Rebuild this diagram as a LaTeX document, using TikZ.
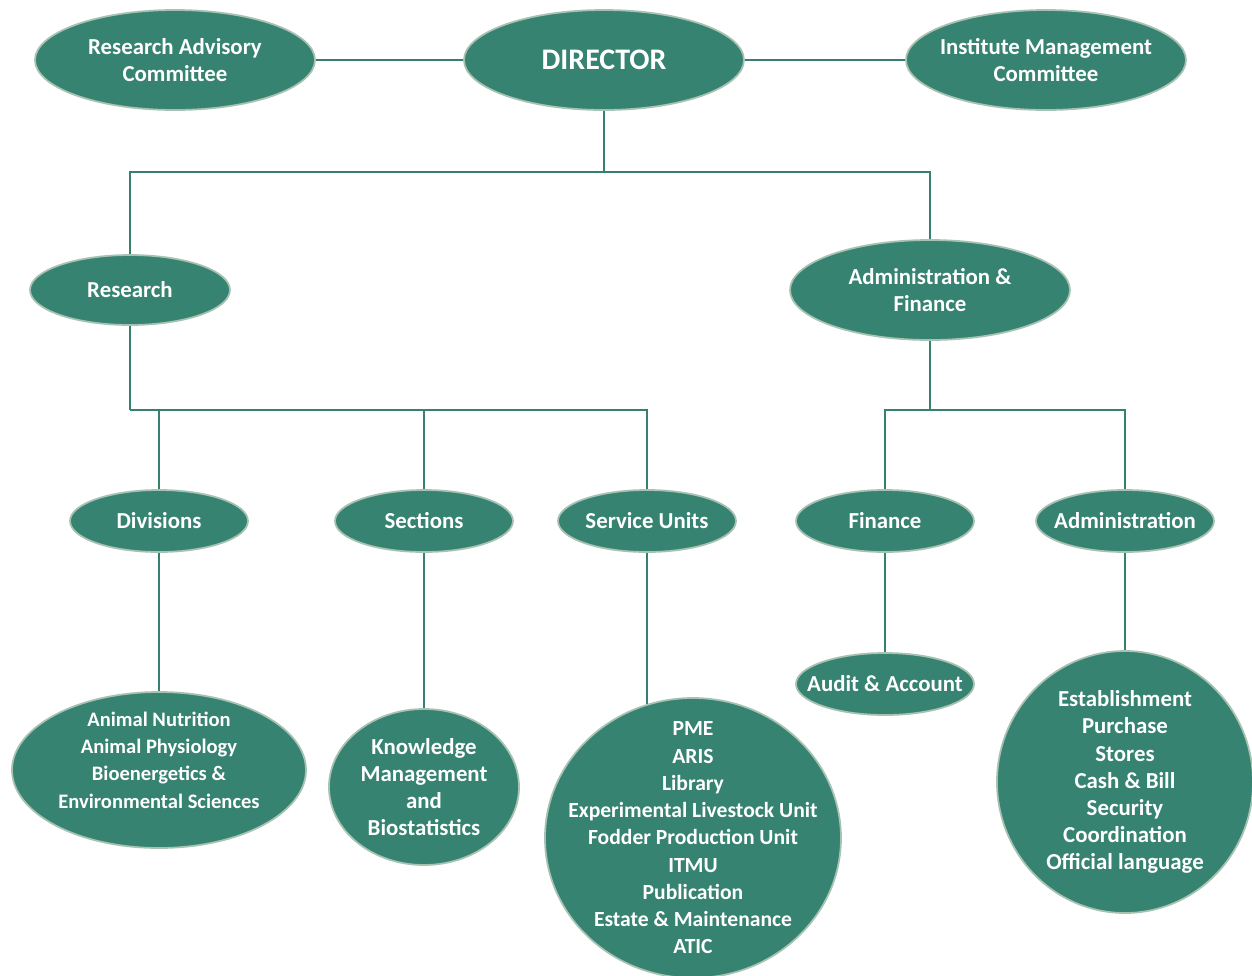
\documentclass[tikz,border=0pt]{standalone}
\usepackage{fontspec}
\setmainfont{Carlito}
\usetikzlibrary{positioning,shapes.geometric,backgrounds}
\definecolor{unitfill}{HTML}{378372}
\definecolor{unitedge}{HTML}{A8C2B2}
\definecolor{wire}{HTML}{35806F}
\begin{document}
\begin{tikzpicture}[node distance=2.0cm]
    \tikzset{
        unit/.style = {ellipse, line width=1pt, draw=unitedge, fill=unitfill, text=white, align=center, inner sep=-3cm, font=\fontsize{13}{15.4}\selectfont\bfseries},
        link/.style = {draw=wire, line width=1.4pt}
    }
    \useasboundingbox (-12.08,1.2) rectangle (12.96,-18.3);
    \clip (-12.08,1.2) rectangle (12.96,-18.3);

    \node (director) [unit, minimum width=5.6cm, minimum height=2.0cm, font=\fontsize{17}{20}\selectfont\bfseries] {DIRECTOR};
    \node (rac) [unit, left of=director, xshift=-6.58cm, minimum width=5.6cm, minimum height=2.0cm] {Research Advisory\\Committee};
    \node (imc) [unit, right of=director, xshift=6.84cm, minimum width=5.6cm, minimum height=2.0cm] {Institute Management\\Committee};
    \coordinate[below of=director, yshift=-0.24cm] (dirjoint);

    \node (research) [unit, below of=director, xshift=-9.48cm, yshift=-2.6cm, minimum width=4.0cm, minimum height=1.4cm] {Research};
    \node (admfin) [unit, below of=director, xshift=6.52cm, yshift=-2.6cm, minimum width=5.6cm, minimum height=2.0cm] {Administration \&\\Finance};
    \coordinate[below of=research, yshift=-0.4cm] (resjoint);
    \coordinate[below of=admfin, yshift=-0.4cm] (admjoint);

    \node (divisions) [unit, below of=research, xshift=0.58cm, yshift=-2.62cm, minimum width=3.56cm, minimum height=1.24cm] {Divisions};
    \node (sections) [unit, right of=divisions, xshift=3.3cm, minimum width=3.56cm, minimum height=1.24cm] {Sections};
    \node (service) [unit, right of=sections, xshift=2.46cm, minimum width=3.56cm, minimum height=1.24cm] {Service Units};
    \node (finance) [unit, right of=service, xshift=2.76cm, minimum width=3.56cm, minimum height=1.24cm] {Finance};
    \node (administration) [unit, right of=finance, xshift=2.8cm, minimum width=3.56cm, minimum height=1.24cm] {Administration};

    \node (audit) [unit, below of=finance, yshift=-1.26cm, minimum width=3.56cm, minimum height=1.24cm] {Audit \& Account};
    \node (animal) [unit, below of=divisions, yshift=-2.98cm, minimum width=5.88cm, minimum height=3.12cm, font=\fontsize{11.7}{15.4}\selectfont\bfseries] {\raisebox{0.16cm}[\height][\depth]{\begin{tabular}{@{}c@{}}Animal Nutrition\\Animal Physiology\\Bioenergetics \&\\Environmental Sciences\end{tabular}}};
    \node (knowledge) [unit, below of=sections, yshift=-3.32cm, minimum width=3.8cm, minimum height=3.12cm] {Knowledge\\Management\\and\\Biostatistics};
    \node (svcircle) [unit, below of=service, xshift=0.92cm, yshift=-4.34cm, minimum width=5.92cm, minimum height=5.6cm, font=\fontsize{12.3}{15.5}\selectfont\bfseries] {PME\\ARIS\\Library\\Experimental Livestock Unit\\Fodder Production Unit\\ITMU\\Publication\\Estate \& Maintenance\\ATIC};
    \node (admcircle) [unit, below of=administration, yshift=-3.22cm, minimum width=5.12cm, minimum height=5.24cm] {Establishment\\Purchase\\Stores\\Cash \& Bill\\Security\\Coordination\\Official language};

    \begin{scope}[on background layer]
        \draw [link] (rac) -- (director);
        \draw [link] (director) -- (imc);
        \draw [link] (director) -- (dirjoint);
        \draw [link] (dirjoint) -| (research);
        \draw [link] (dirjoint) -| (admfin);
        \draw [link] (research) -- (resjoint);
        \draw [link] (resjoint) -| (divisions);
        \draw [link] (resjoint) -| (sections);
        \draw [link] (resjoint) -| (service);
        \draw [link] (admfin) -- (admjoint);
        \draw [link] (admjoint) -| (finance);
        \draw [link] (admjoint) -| (administration);
        \draw [link] (divisions) -- (animal);
        \draw [link] (sections) -- (knowledge);
        \draw [link] (service) -- (service |- svcircle.center);
        \draw [link] (finance) -- (audit);
        \draw [link] (administration) -- (admcircle);
    \end{scope}
\end{tikzpicture}
\end{document}
